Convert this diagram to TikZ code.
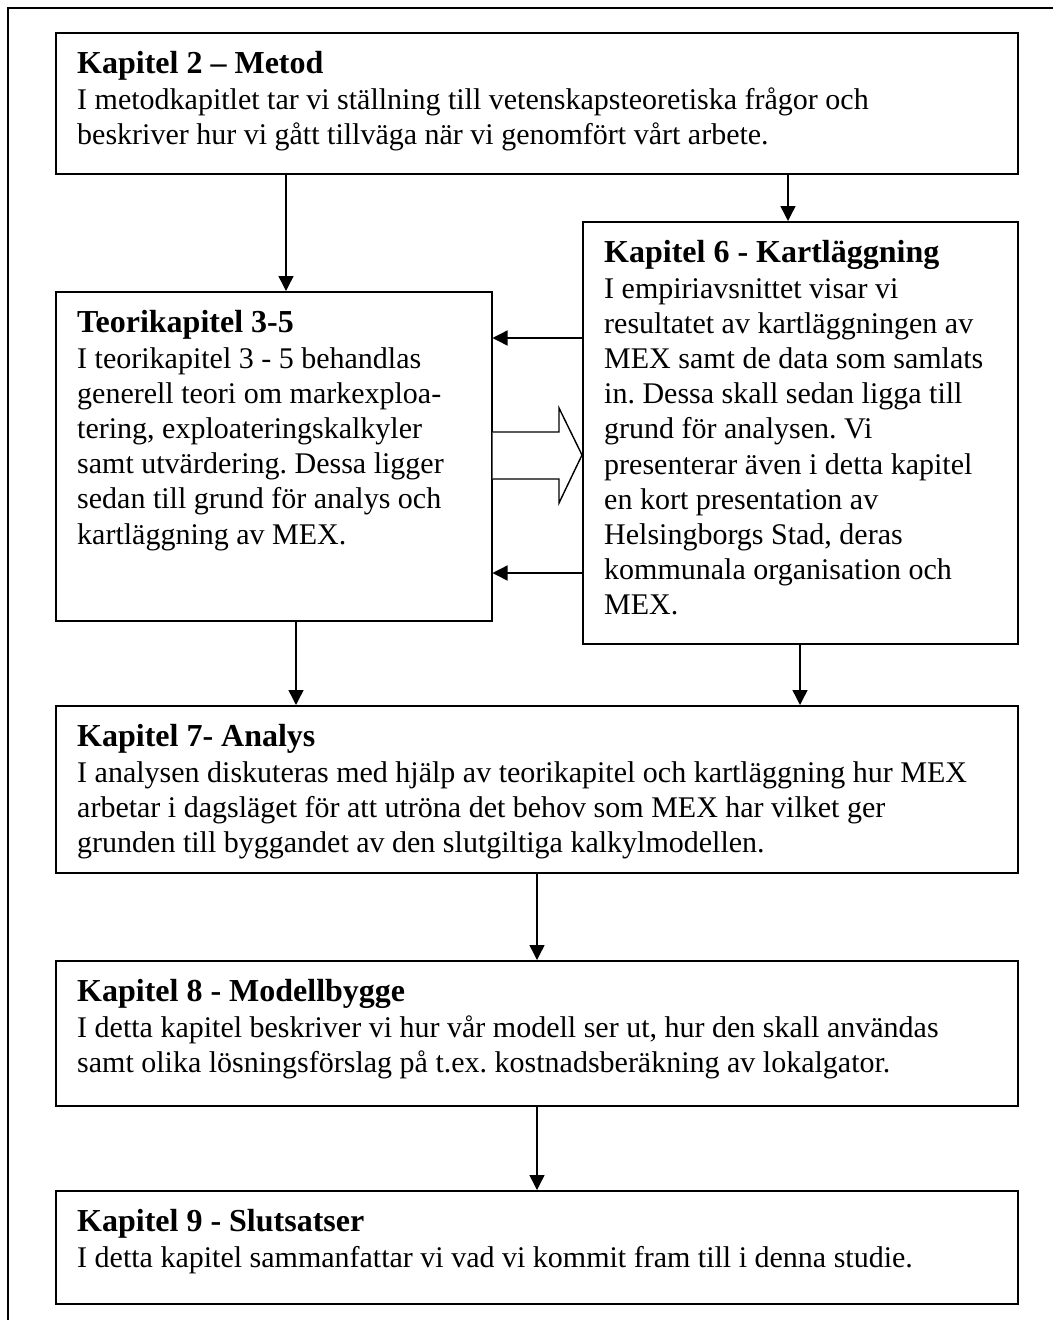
\documentclass[tikz,border=0pt]{standalone}
\usepackage{fontspec}
\setmainfont{Liberation Serif}
\usetikzlibrary{arrows.meta}
\frenchspacing

\tikzset{
  chapbox/.style={draw, line width=1.5pt, inner sep=0pt, anchor=north west},
  chaptext/.style={anchor=north west, inner sep=0pt, align=left,
    font=\fontsize{30}{35.2}\selectfont, xshift=22pt, yshift=-19.5pt},
  flow/.style={line width=1.4pt, -{Triangle[length=15pt,width=15pt]}},
  hollow/.style={line width=1.4pt, fill=white, line join=miter},
  frame/.style={line width=1.5pt}
}
\newcommand{\chaphead}[1]{{\fontsize{32}{35.2}\selectfont\bfseries #1}}

\begin{document}
\begin{tikzpicture}[x=1pt, y=-1pt]
  \useasboundingbox (0,0) rectangle (1053,1320);

  % outer page frame (open towards right and bottom)
  \draw[frame] (8,1320) |- (1053,8);

  % chapter boxes
  \node[chapbox, minimum width=962pt, minimum height=141pt] (k2) at (55,32) {};
  \node[chapbox, minimum width=436pt, minimum height=329pt] (teori) at (55,291) {};
  \node[chapbox, minimum width=435pt, minimum height=422pt] (k6) at (582,221) {};
  \node[chapbox, minimum width=962pt, minimum height=167pt] (k7) at (55,705) {};
  \node[chapbox, minimum width=962pt, minimum height=145pt] (k8) at (55,960) {};
  \node[chapbox, minimum width=962pt, minimum height=113pt] (k9) at (55,1190) {};

  % chapter texts
  \node[chaptext] (k2t) at (k2.north west) {\chaphead{Kapitel 2 – Metod}\\
    I metodkapitlet tar vi ställning till vetenskapsteoretiska frågor och\\
    beskriver hur vi gått tillväga när vi genomfört vårt arbete.};

  \node[chaptext] (teorit) at (teori.north west) {\chaphead{Teorikapitel 3-5}\\
    I teorikapitel 3 - 5 behandlas\\
    generell teori om markexploa-\\
    tering, exploateringskalkyler\\
    samt utvärdering. Dessa ligger\\
    sedan till grund för analys och\\
    kartläggning av MEX.};

  \node[chaptext] (k6t) at (k6.north west) {\chaphead{Kapitel 6 - Kartläggning}\\
    I empiriavsnittet visar vi\\
    resultatet av kartläggningen av\\
    MEX samt de data som samlats\\
    in. Dessa skall sedan ligga till\\
    grund för analysen. Vi\\
    presenterar även i detta kapitel\\
    en kort presentation av\\
    Helsingborgs Stad, deras\\
    kommunala organisation och\\
    MEX.};

  \node[chaptext] (k7t) at (k7.north west) {\chaphead{Kapitel 7- Analys}\\
    I analysen diskuteras med hjälp av teorikapitel och kartläggning hur MEX\\
    arbetar i dagsläget för att utröna det behov som MEX har vilket ger\\
    grunden till byggandet av den slutgiltiga kalkylmodellen.};

  \node[chaptext] (k8t) at (k8.north west) {\chaphead{Kapitel 8 - Modellbygge}\\
    I detta kapitel beskriver vi hur vår modell ser ut, hur den skall användas\\
    samt olika lösningsförslag på t.ex. kostnadsberäkning av lokalgator.};

  \node[chaptext] (k9t) at (k9.north west) {\chaphead{Kapitel 9 - Slutsatser}\\
    I detta kapitel sammanfattar vi vad vi kommit fram till i denna studie.};

  % downward flow
  \draw[flow] (k2.south -| 286,0) -- (teori.north -| 286,0);
  \draw[flow] (k2.south -| 788,0) -- (k6.north -| 788,0);
  \draw[flow] (teori.south -| 296,0) -- (k7.north -| 296,0);
  \draw[flow] (k6.south -| 800,0) -- (k7.north -| 800,0);
  \draw[flow] (k7.south -| 537,0) -- (k8.north -| 537,0);
  \draw[flow] (k8.south -| 537,0) -- (k9.north -| 537,0);

  % feedback from mapping to theory
  \draw[flow] (k6.west |- 0,338) -- (teori.east |- 0,338);
  \draw[flow] (k6.west |- 0,573) -- (teori.east |- 0,573);

  % broad hollow arrow from theory to mapping
  \draw[hollow] (teori.east |- 0,432) -- (559,432) -- (559,408)
    -- (k6.west |- 0,455) -- (559,503) -- (559,479) -- (teori.east |- 0,479);
\end{tikzpicture}
\end{document}
